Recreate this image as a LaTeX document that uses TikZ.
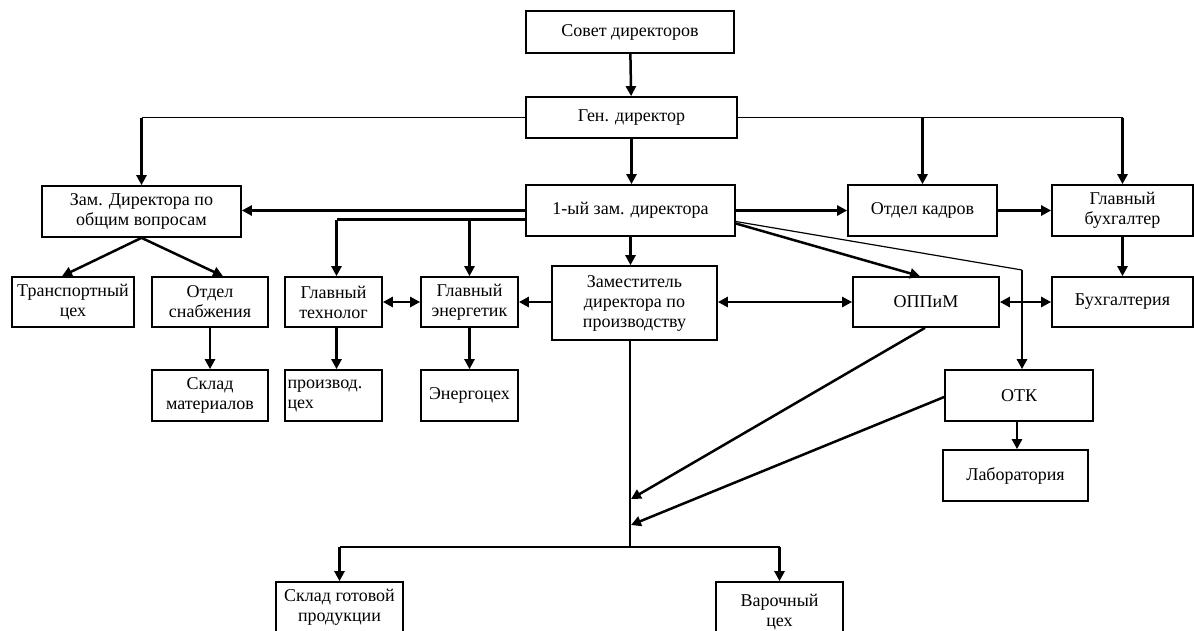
\documentclass[tikz,border=0pt]{standalone}
\usepackage{fontspec}
\setmainfont{Liberation Serif}
\usetikzlibrary{arrows.meta}
\tikzset{
  box/.style={draw, line width=1.7pt, inner sep=0pt, align=center, font=\fontsize{18}{20}\selectfont, fill=white},
  arr/.style={line width=2.5pt, -{Triangle[length=10pt,width=10pt]}},
  darr/.style={line width=2.5pt, {Triangle[length=10pt,width=10pt]}-{Triangle[length=10pt,width=10pt]}},
  thinline/.style={line width=1.5pt},
  thickline/.style={line width=2.5pt},
}
\begin{document}
\begin{tikzpicture}[x=1pt,y=-1pt]
\useasboundingbox (0,0) rectangle (1194,630);
\clip (0,0) rectangle (1194,630);
\fill[white] (0,0) rectangle (1194,630);

% nodes
\node[box, minimum width=208pt, minimum height=42pt] (sovet) at (630,32) {Совет директоров};
\node[box, minimum width=211pt, minimum height=41pt] (gen) at (631.5,117.5) {Ген. директор};
\node[box, minimum width=199pt, minimum height=51pt] (zamobsh) at (141.5,211.5) {Зам. Директора по\\общим вопросам};
\node[box, minimum width=209pt, minimum height=51pt] (perv) at (630.5,210.5) {1-ый зам. директора};
\node[box, minimum width=149pt, minimum height=51pt] (kadry) at (922.5,210.5) {Отдел кадров};
\node[box, minimum width=141pt, minimum height=51pt] (glbuh) at (1122.5,210.5) {Главный\\бухгалтер};
\node[box, minimum width=122pt, minimum height=50pt] (transp) at (73,302) {Транспортный\\цех};
\node[box, minimum width=116pt, minimum height=50pt] (snab) at (210,302) {Отдел\\снабжения};
\node[box, minimum width=97pt, minimum height=50pt] (tehn) at (333.5,302) {Главный\\технолог};
\node[box, minimum width=97pt, minimum height=50pt] (energ) at (469.5,302) {Главный\\энергетик};
\node[box, minimum width=165pt, minimum height=74pt] (zampr) at (634.5,303) {Заместитель\\директора по\\производству};
\node[box, minimum width=146pt, minimum height=50pt] (oppim) at (926,302) {ОППиМ};
\node[box, minimum width=141pt, minimum height=50pt] (buh) at (1122.5,302) {Бухгалтерия};
\node[box, minimum width=116pt, minimum height=51pt] (sklmat) at (210,395.5) {Склад\\материалов};
\node[box, minimum width=97pt, minimum height=51pt, align=left, text width=92pt] (proizv) at (333.5,395.5) {производ.\\цех};
\node[box, minimum width=97pt, minimum height=51pt] (energoceh) at (469.5,395.5) {Энергоцех};
\node[box, minimum width=148pt, minimum height=51pt] (otk) at (1019,395.5) {ОТК};
\node[box, minimum width=145pt, minimum height=51pt] (lab) at (1015.5,475.5) {Лаборатория};
\node[box, minimum width=127pt, minimum height=51pt] (sklgot) at (339.5,607.5) {Склад готовой\\продукции};
\node[box, minimum width=127pt, minimum height=60pt] (var) at (779.5,612) {Варочный\\цех};

% coordinates
\coordinate (gl) at (zamobsh.north |- gen.west);
\coordinate (gr) at (glbuh.north |- gen.east);
\coordinate (gk) at (kadry.north |- gen.east);
\coordinate (pl) at ([yshift=-9pt]perv.west);
\coordinate (pt) at ([xshift=3pt]tehn.north |- pl);
\coordinate (pe) at (energ.north |- pl);
\coordinate (kotk) at (1022,270);
\coordinate (j1) at (631,499);
\coordinate (j2) at (631,525);
\coordinate (jb) at (630,547);
\coordinate (bl) at (sklgot.north |- jb);
\coordinate (br) at (var.north |- jb);

% connectors
\draw[arr] (sovet) -- (gen);
\draw[arr] (gen.south) -- (gen.south |- perv.north);
\draw[thinline] (gen.west) -- (gl);
\draw[arr] (gl) -- (zamobsh.north);
\draw[thinline] (gen.east) -- (gr);
\draw[arr] (gr) -- (glbuh.north);
\draw[arr] (gk) -- (kadry.north);

\draw[arr] (perv.west) -- (perv.west -| zamobsh.east);
\draw[thickline] (pl) -- (pt);
\draw[arr] (pt) -- ([xshift=3pt]tehn.north);
\draw[arr] (pe) -- (energ.north);
\draw[arr] (perv.south) -- (perv.south |- zampr.north);
\draw[arr] (perv.east) -- (kadry.west);
\draw[arr] (kadry.east) -- (glbuh.west);
\draw[arr] (glbuh.south) -- (buh.north);
\draw[arr] ([yshift=-13pt]perv.east) -- ([xshift=-6pt]oppim.north);
\draw[line width=1.2pt] ([yshift=-11pt]perv.east) -- (kotk);
\draw[arr] (kotk) -- ([xshift=3pt]otk.north);

\draw[arr] (zamobsh.south) -- ([xshift=-11pt]transp.north);
\draw[arr] (zamobsh.south) -- ([xshift=13pt]snab.north);
\draw[arr] (snab.south) -- (sklmat.north);
\draw[arr] ([xshift=3pt]tehn.south) -- ([xshift=3pt]proizv.north);
\draw[arr] (energ.south) -- (energoceh.north);

\draw[darr] (tehn.east) -- (energ.west);
\draw[arr] (zampr.west |- energ.east) -- (energ.east);
\draw[darr] (zampr.east |- oppim.west) -- (oppim.west);
\draw[darr] (oppim.east) -- (buh.west);

\draw[thinline] (zampr.south -| jb) -- (jb);
\draw[arr] ([xshift=-1pt]oppim.south) -- (j1);
\draw[arr] ([yshift=-1.5pt]otk.west) -- (j2);
\draw[thinline] (bl) -- (br);
\draw[arr] (bl) -- (sklgot.north);
\draw[arr] (br) -- (var.north);
\draw[arr] ([xshift=-2pt]otk.south) -- ([xshift=1.5pt]lab.north);
\end{tikzpicture}
\end{document}
